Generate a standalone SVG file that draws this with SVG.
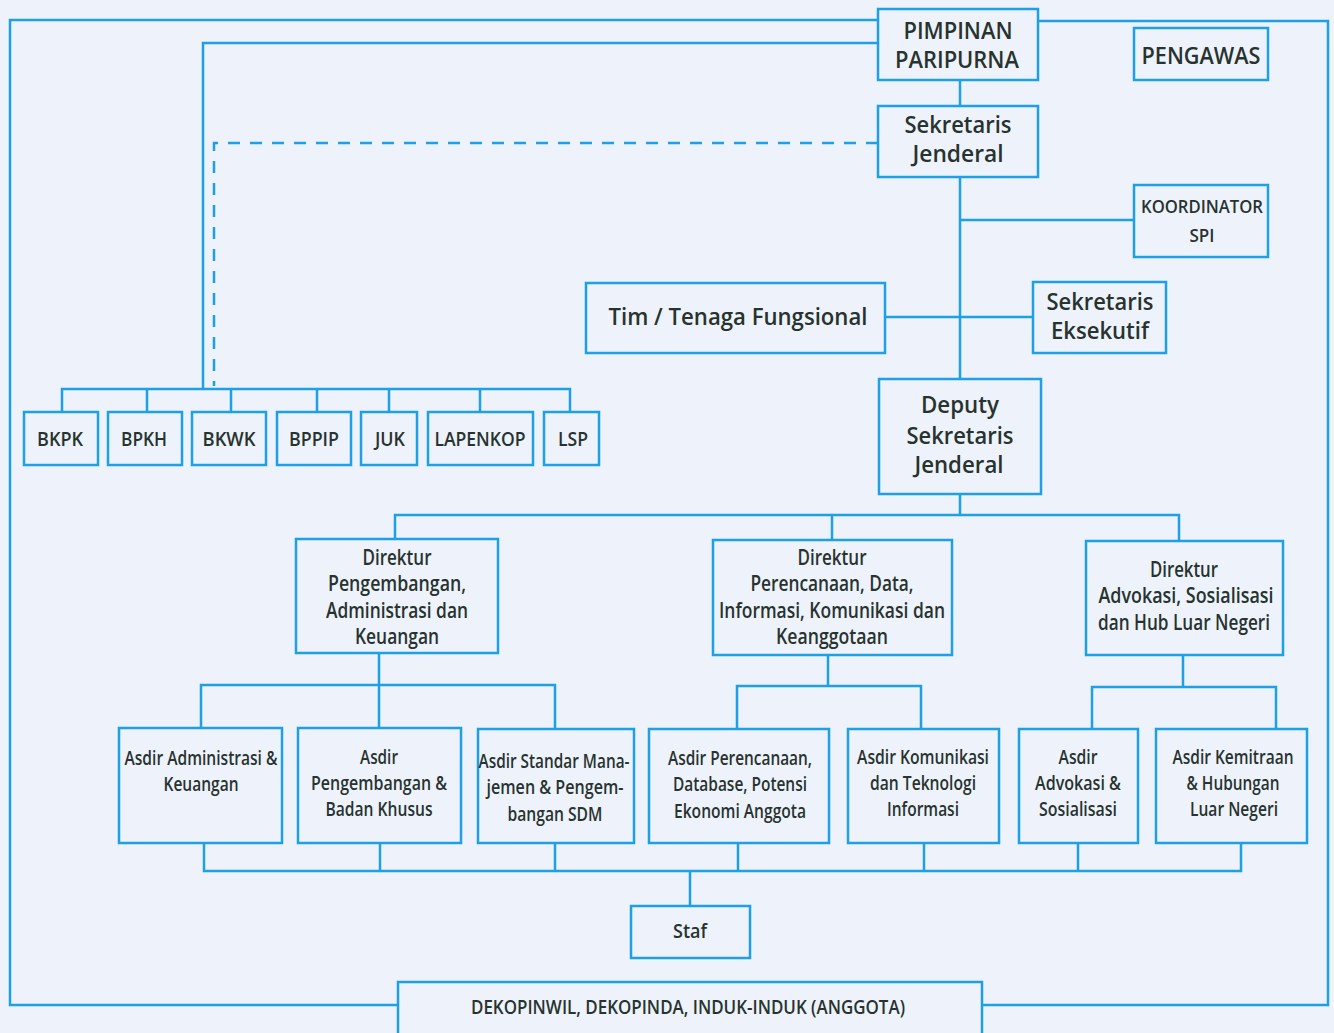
<svg xmlns="http://www.w3.org/2000/svg" width="1334" height="1033" viewBox="0 0 1334 1033">
<style>
.bg{fill:#eef2fb}
.box{fill:#eef2fb;stroke:#1ea0e6;stroke-width:2.5}
.ln{fill:none;stroke:#1ea0e6;stroke-width:2.5}
.dash{fill:none;stroke:#1ea0e6;stroke-width:2.5;stroke-dasharray:12 10}
text{font-family:"Open Sans","Noto Sans","Liberation Sans",sans-serif;fill:#27332f;text-anchor:middle}
.h{font-size:23px;font-weight:600}
.k{font-size:18px;font-weight:600}
.m{font-size:20px;font-weight:600}
.d{font-size:21px;font-weight:600}
.a{font-size:19px;font-weight:600}
</style>
<rect class="bg" x="0" y="0" width="1334" height="1033"/>
<g id="connectors">
<path class="ln" d="M398,1005 H10 V20 H878"/>
<path class="ln" d="M1038,21 H1328 V1005 H982"/>
<path class="ln" d="M878,43 H203 V389"/>
<path class="dash" d="M878,143 H214 V386"/>
<path class="ln" d="M62,412 V389 H570 V412 M147,389 V412 M231,389 V412 M317,389 V412 M389,389 V412 M480,389 V412"/>
<path class="ln" d="M960,80 V106 M960,177 V379 M960,220 H1134 M885,317 H1033"/>
<path class="ln" d="M960,494 V515 M395,539 V515 H1179 V541 M832,515 V540"/>
<path class="ln" d="M379,653 V685 M201,728 V685 H555 V728 M379,685 V728"/>
<path class="ln" d="M828,655 V686 M737,729 V686 H921 V729"/>
<path class="ln" d="M1183,655 V687 M1092,729 V687 H1276 V729"/>
<path class="ln" d="M204,843 V871 H1241 V843 M380,843 V871 M555,843 V871 M738,843 V871 M924,843 V871 M1078,843 V871 M690,871 V906"/>
</g>
<g id="pimpinan"><rect class="box" x="878" y="9" width="160" height="71"/>
<text class="h" x="958" y="39" textLength="109" lengthAdjust="spacingAndGlyphs">PIMPINAN</text>
<text class="h" x="957" y="68" textLength="124" lengthAdjust="spacingAndGlyphs">PARIPURNA</text></g>
<g id="pengawas"><rect class="box" x="1134" y="28" width="134" height="52"/>
<text class="h" x="1201" y="64" textLength="119" lengthAdjust="spacingAndGlyphs">PENGAWAS</text></g>
<g id="sekjen"><rect class="box" x="878" y="106" width="160" height="71"/>
<text class="h" x="958" y="133" textLength="107" lengthAdjust="spacingAndGlyphs">Sekretaris</text>
<text class="h" x="958" y="162" textLength="91" lengthAdjust="spacingAndGlyphs">Jenderal</text></g>
<g id="koordinator"><rect class="box" x="1134" y="185" width="134" height="72"/>
<text class="k" x="1202" y="213" textLength="122" lengthAdjust="spacingAndGlyphs">KOORDINATOR</text>
<text class="k" x="1202" y="242" textLength="25" lengthAdjust="spacingAndGlyphs">SPI</text></g>
<g id="tim"><rect class="box" x="586" y="283" width="299" height="70"/>
<text class="h" x="738" y="325" textLength="259" lengthAdjust="spacingAndGlyphs">Tim / Tenaga Fungsional</text></g>
<g id="sekeks"><rect class="box" x="1033" y="282" width="133" height="71"/>
<text class="h" x="1100" y="310" textLength="107" lengthAdjust="spacingAndGlyphs">Sekretaris</text>
<text class="h" x="1100" y="339" textLength="98" lengthAdjust="spacingAndGlyphs">Eksekutif</text></g>
<g id="deputy"><rect class="box" x="879" y="379" width="162" height="115"/>
<text class="h" x="960" y="413" textLength="78" lengthAdjust="spacingAndGlyphs">Deputy</text>
<text class="h" x="960" y="444" textLength="107" lengthAdjust="spacingAndGlyphs">Sekretaris</text>
<text class="h" x="959" y="473" textLength="89" lengthAdjust="spacingAndGlyphs">Jenderal</text></g>
<g id="bkpk"><rect class="box" x="24" y="412" width="74" height="53"/><text class="m" x="60" y="446" textLength="46" lengthAdjust="spacingAndGlyphs">BKPK</text></g>
<g id="bpkh"><rect class="box" x="108" y="412" width="74" height="53"/><text class="m" x="144" y="446" textLength="46" lengthAdjust="spacingAndGlyphs">BPKH</text></g>
<g id="bkwk"><rect class="box" x="192" y="412" width="74" height="53"/><text class="m" x="229" y="446" textLength="53" lengthAdjust="spacingAndGlyphs">BKWK</text></g>
<g id="bppip"><rect class="box" x="277" y="412" width="74" height="53"/><text class="m" x="314" y="446" textLength="50" lengthAdjust="spacingAndGlyphs">BPPIP</text></g>
<g id="juk"><rect class="box" x="361" y="412" width="56" height="53"/><text class="m" x="390" y="446" textLength="30" lengthAdjust="spacingAndGlyphs">JUK</text></g>
<g id="lapenkop"><rect class="box" x="428" y="412" width="105" height="53"/><text class="m" x="480" y="446" textLength="91" lengthAdjust="spacingAndGlyphs">LAPENKOP</text></g>
<g id="lsp"><rect class="box" x="544" y="412" width="55" height="53"/><text class="m" x="573" y="446" textLength="30" lengthAdjust="spacingAndGlyphs">LSP</text></g>
<g id="dir1"><rect class="box" x="296" y="539" width="202" height="114"/>
<text class="d" x="397" y="565" textLength="69" lengthAdjust="spacingAndGlyphs">Direktur</text>
<text class="d" x="397" y="591" textLength="138" lengthAdjust="spacingAndGlyphs">Pengembangan,</text>
<text class="d" x="397" y="618" textLength="142" lengthAdjust="spacingAndGlyphs">Administrasi dan</text>
<text class="d" x="397" y="644" textLength="84" lengthAdjust="spacingAndGlyphs">Keuangan</text></g>
<g id="dir2"><rect class="box" x="713" y="540" width="239" height="115"/>
<text class="d" x="832" y="565" textLength="69" lengthAdjust="spacingAndGlyphs">Direktur</text>
<text class="d" x="832" y="591" textLength="163" lengthAdjust="spacingAndGlyphs">Perencanaan, Data,</text>
<text class="d" x="832" y="618" textLength="226" lengthAdjust="spacingAndGlyphs">Informasi, Komunikasi dan</text>
<text class="d" x="832" y="644" textLength="112" lengthAdjust="spacingAndGlyphs">Keanggotaan</text></g>
<g id="dir3"><rect class="box" x="1086" y="541" width="197" height="114"/>
<text class="d" x="1184" y="577" textLength="68" lengthAdjust="spacingAndGlyphs">Direktur</text>
<text class="d" x="1186" y="603" textLength="175" lengthAdjust="spacingAndGlyphs">Advokasi, Sosialisasi</text>
<text class="d" x="1184" y="630" textLength="172" lengthAdjust="spacingAndGlyphs">dan Hub Luar Negeri</text></g>
<g id="asdir1"><rect class="box" x="119" y="728" width="163" height="115"/>
<text class="a" x="201" y="765" textLength="153" lengthAdjust="spacingAndGlyphs">Asdir Administrasi &amp;</text>
<text class="a" x="201" y="791" textLength="75" lengthAdjust="spacingAndGlyphs">Keuangan</text></g>
<g id="asdir2"><rect class="box" x="298" y="728" width="163" height="115"/>
<text class="a" x="379" y="764" textLength="38" lengthAdjust="spacingAndGlyphs">Asdir</text>
<text class="a" x="379" y="790" textLength="136" lengthAdjust="spacingAndGlyphs">Pengembangan &amp;</text>
<text class="a" x="379" y="816" textLength="107" lengthAdjust="spacingAndGlyphs">Badan Khusus</text></g>
<g id="asdir3"><rect class="box" x="478" y="729" width="156" height="114"/>
<text class="a" x="554" y="768" textLength="151" lengthAdjust="spacingAndGlyphs">Asdir Standar Mana-</text>
<text class="a" x="555" y="794" textLength="137" lengthAdjust="spacingAndGlyphs">jemen &amp; Pengem-</text>
<text class="a" x="555" y="821" textLength="95" lengthAdjust="spacingAndGlyphs">bangan SDM</text></g>
<g id="asdir4"><rect class="box" x="649" y="729" width="180" height="114"/>
<text class="a" x="740" y="765" textLength="144" lengthAdjust="spacingAndGlyphs">Asdir Perencanaan,</text>
<text class="a" x="740" y="791" textLength="134" lengthAdjust="spacingAndGlyphs">Database, Potensi</text>
<text class="a" x="740" y="818" textLength="132" lengthAdjust="spacingAndGlyphs">Ekonomi Anggota</text></g>
<g id="asdir5"><rect class="box" x="848" y="729" width="151" height="114"/>
<text class="a" x="923" y="764" textLength="132" lengthAdjust="spacingAndGlyphs">Asdir Komunikasi</text>
<text class="a" x="923" y="790" textLength="106" lengthAdjust="spacingAndGlyphs">dan Teknologi</text>
<text class="a" x="923" y="816" textLength="72" lengthAdjust="spacingAndGlyphs">Informasi</text></g>
<g id="asdir6"><rect class="box" x="1019" y="729" width="119" height="114"/>
<text class="a" x="1078" y="764" textLength="39" lengthAdjust="spacingAndGlyphs">Asdir</text>
<text class="a" x="1078" y="790" textLength="86" lengthAdjust="spacingAndGlyphs">Advokasi &amp;</text>
<text class="a" x="1078" y="816" textLength="78" lengthAdjust="spacingAndGlyphs">Sosialisasi</text></g>
<g id="asdir7"><rect class="box" x="1156" y="729" width="151" height="114"/>
<text class="a" x="1233" y="764" textLength="121" lengthAdjust="spacingAndGlyphs">Asdir Kemitraan</text>
<text class="a" x="1233" y="790" textLength="93" lengthAdjust="spacingAndGlyphs">&amp; Hubungan</text>
<text class="a" x="1234" y="816" textLength="88" lengthAdjust="spacingAndGlyphs">Luar Negeri</text></g>
<g id="staf"><rect class="box" x="631" y="906" width="119" height="52"/>
<text class="m" x="690" y="938" textLength="34" lengthAdjust="spacingAndGlyphs">Staf</text></g>
<g id="dekopinwil"><rect class="box" x="398" y="982" width="584" height="60"/>
<text class="m" x="688" y="1014" textLength="434" lengthAdjust="spacingAndGlyphs">DEKOPINWIL, DEKOPINDA, INDUK-INDUK (ANGGOTA)</text></g>
</svg>
